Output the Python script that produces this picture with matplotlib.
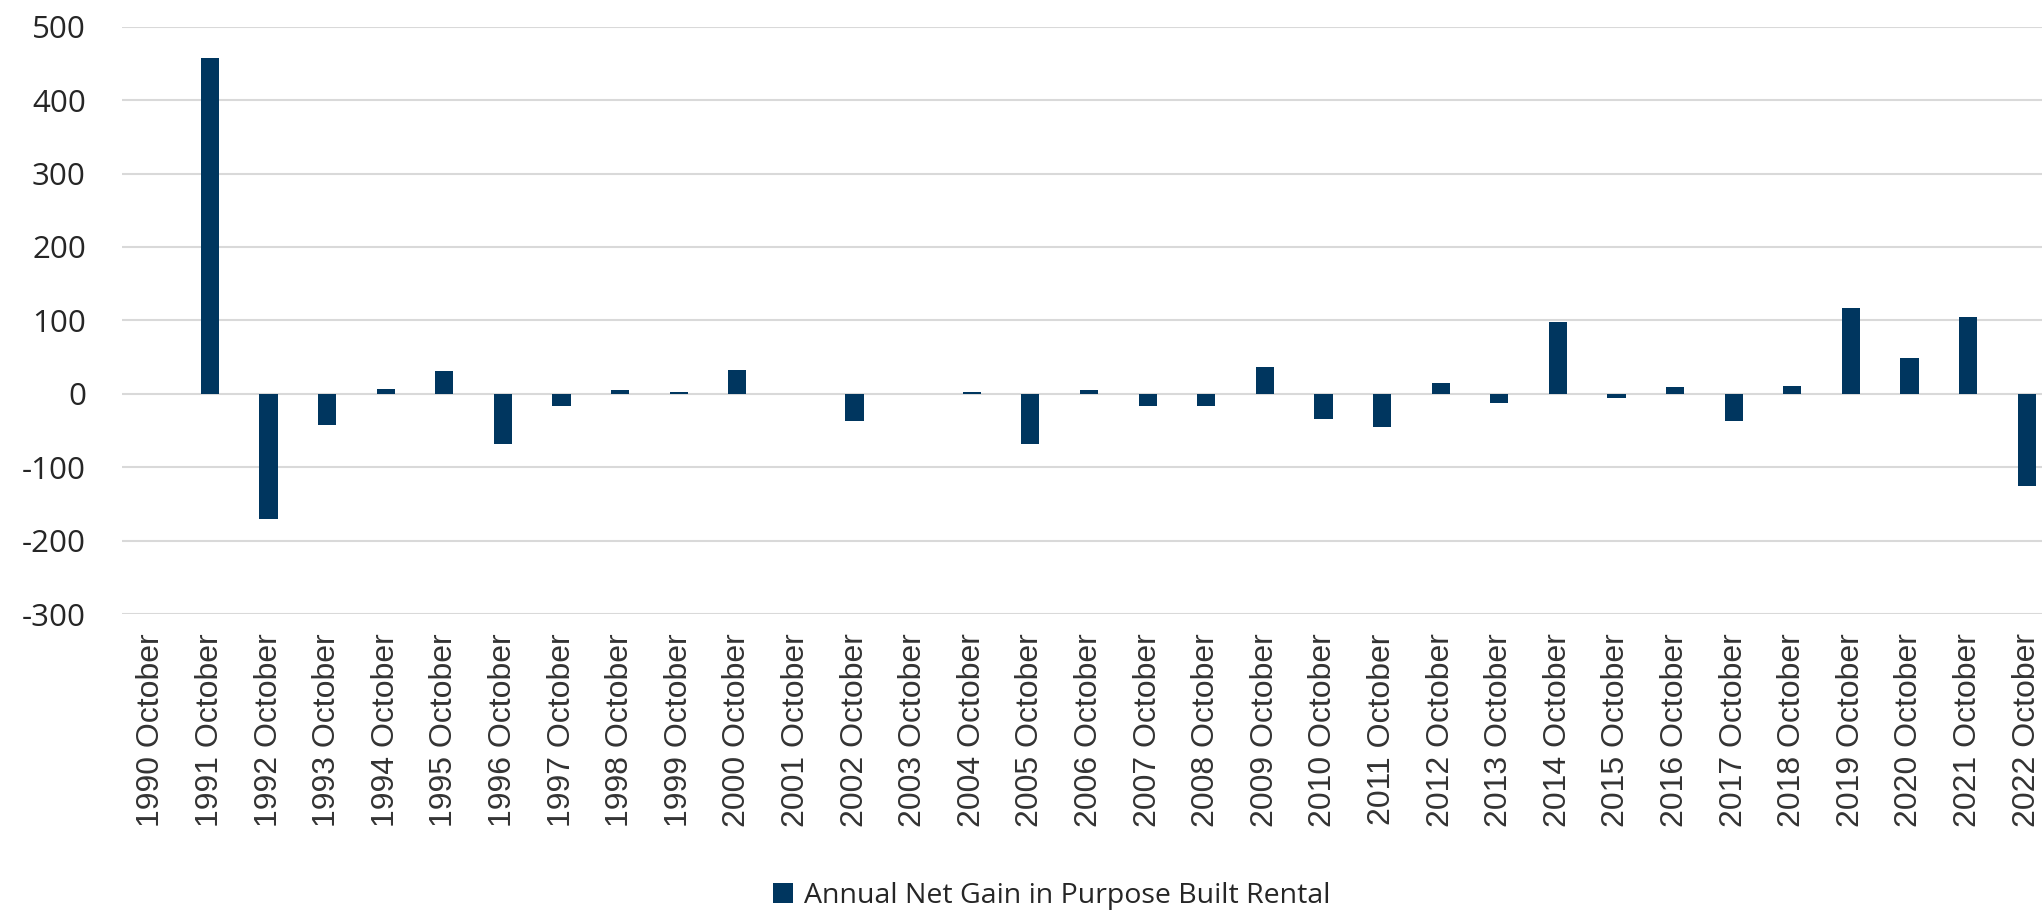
import matplotlib
matplotlib.use("Agg")
import matplotlib.pyplot as plt
from matplotlib.patches import Patch

years = list(range(1990, 2023))
categories = [f"{y} October" for y in years]
values = [0, 458, -171, -43, 6, 31, -69, -17, 5, 2,
          33, 0, -37, 0, 3, -68, 5, -16, -17, 36,
          -34, -45, 14, -12, 98, -6, 9, -37, 11, 117,
          49, 105, -126]
series_name = "Annual Net Gain in Purpose Built Rental"
yticks = [-300, -200, -100, 0, 100, 200, 300, 400, 500]

bar_color = "#00365F"
text_color = "#262626"
xlabel_color = "#333333"
grid_color = "#D9D9D9"

W, H = 2042, 910
fig = plt.figure(figsize=(W / 100, H / 100), dpi=100)
left, right = 122 / W, 2056 / W
top, bottom = 1 - 26.7 / H, 1 - 614 / H
ax = fig.add_axes([left, bottom, right - left, top - bottom])

x = list(range(len(categories)))
ax.bar(x, values, width=0.31, color=bar_color, zorder=3)

ax.set_xlim(-0.5, len(categories) - 0.5)
ax.set_ylim(-300, 500)
ax.set_yticks(yticks)
ax.set_yticklabels([str(v) for v in yticks], fontsize=22.5, color=text_color,
                   family=["Open Sans", "DejaVu Sans"])
ax.set_xticks(x)
ax.set_xticklabels(categories, rotation=90, fontsize=23, color=xlabel_color,
                   family=["Liberation Sans", "DejaVu Sans"], va="top", ha="center")
ax.tick_params(axis="x", length=0, pad=14)
ax.tick_params(axis="y", length=0, pad=26)
ax.grid(axis="y", color=grid_color, linewidth=1.5, zorder=0)
for s in ax.spines.values():
    s.set_visible(False)

handle = Patch(facecolor=bar_color, edgecolor="none")
fig.legend([handle], [series_name], loc="center",
           bbox_to_anchor=(1052 / W, 1 - 896 / H), frameon=False,
           prop={"family": ["Open Sans", "DejaVu Sans"], "size": 20.5},
           labelcolor=text_color, handlelength=0.7, handleheight=0.7,
           handletextpad=0.4, borderpad=0, borderaxespad=0)

fig.savefig("out.png", dpi=100)
